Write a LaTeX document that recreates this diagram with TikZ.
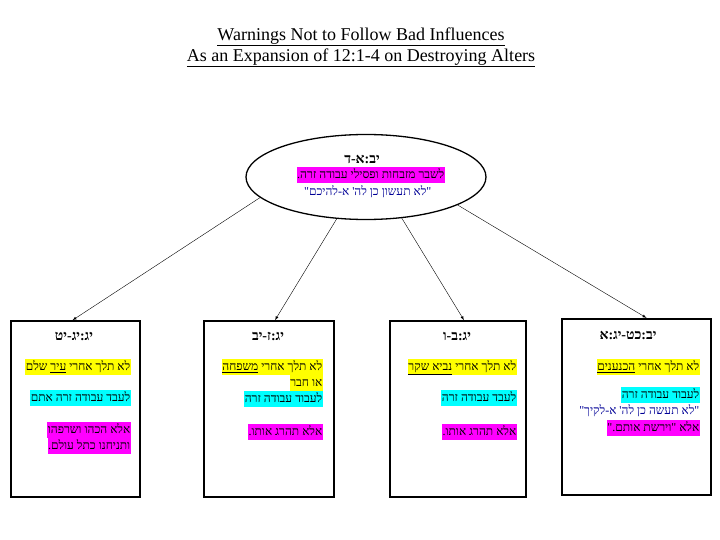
\documentclass[tikz,border=0pt]{standalone}
\usepackage{fontspec}
\setmainfont{Liberation Serif}
\newfontfamily\heb[Script=Hebrew]{Liberation Serif}
\TeXXeTstate=1
\usetikzlibrary{shapes.geometric}
\definecolor{hlyellow}{RGB}{255,255,0}
\definecolor{hlcyan}{RGB}{0,255,255}
\definecolor{hlmagenta}{RGB}{255,0,255}
\definecolor{quoteblue}{RGB}{0,0,150}
\newcommand\rl[1]{\beginR#1\endR}
\newcommand\ulh[1]{\underline{\beginR#1\endR}}
\begin{document}
\begin{tikzpicture}[x=1pt,y=-1pt,
hl/.style={anchor=east,inner xsep=0.5pt,inner ysep=1pt,text height=10pt,text depth=3.5pt,font=\heb\fontsize{12}{14}\selectfont},
head/.style={font=\heb\bfseries\fontsize{14}{16}\selectfont},
boxframe/.style={draw,line width=1.6pt,minimum height=176pt},
title/.style={font=\fontsize{18}{21}\selectfont}]
\useasboundingbox (0,0) rectangle (720,540);
\node[title] (title1) at (361,37) {\underline{Warnings Not to Follow Bad Influences}};
\node[title] (title2) at (361,58) {\underline{As an Expansion of 12:1-4 on Destroying Alters}};
\node[draw,ellipse,line width=1.3pt,minimum width=240pt,minimum height=85pt] (ell) at (366,177) {};
\node[head] (ellh) at (362,159) {\rl{יב:א-ד}};
\node[hl,fill=hlmagenta] (ellm) at (445,175) {\rl{לשבר מזבחות ופסילי עבודה זרה.}};
\node[hl,text=quoteblue] (ellq) at (432,192) {\rl{"לא תעשון כן לה' א-להיכם"}};
\node[boxframe,minimum width=129pt] (b1) at (75.5,409) {};
\node[boxframe,minimum width=130pt] (b2) at (269,409) {};
\node[boxframe,minimum width=136pt] (b3) at (458,409) {};
\node[boxframe,line width=2.2pt,minimum width=149pt] (b4) at (636.5,407) {};
\node[head] (b1h) at (74,336) {\rl{יג:יג-יט}};
\node[hl,fill=hlyellow] (b1y) at (131,367) {\rl{לא תלך אחרי \ulh{עיר} שלם}};
\node[hl,fill=hlcyan] (b1c) at (131,398) {\rl{לעבד עבודה זרה אתם}};
\node[hl,fill=hlmagenta] (b1m1) at (131,430) {\rl{אלא הכהו ושרפהו}};
\node[hl,fill=hlmagenta] (b1m2) at (131,446) {\rl{ותניחנו כתל עולם.}};
\node[head] (b2h) at (268,336) {\rl{יג:ז-יב}};
\node[hl,fill=hlyellow] (b2y1) at (323,367) {\rl{לא תלך אחרי \ulh{משפחה}}};
\node[hl,fill=hlyellow] (b2y2) at (323,383) {\rl{או חבר}};
\node[hl,fill=hlcyan] (b2c) at (323,399) {\rl{לעבוד עבודה זרה}};
\node[hl,fill=hlmagenta] (b2m) at (323,432) {\rl{אלא תהרג אותו.}};
\node[head] (b3h) at (457,336) {\rl{יג:ב-ו}};
\node[hl,fill=hlyellow] (b3y) at (517,367) {\rl{לא תלך אחרי \ulh{נביא שקר}}};
\node[hl,fill=hlcyan] (b3c) at (517,398) {\rl{לעבד עבודה זרה}};
\node[hl,fill=hlmagenta] (b3m) at (517,432) {\rl{אלא תהרג אותו.}};
\node[head] (b4h) at (628,335) {\rl{יב:כט-יג:א}};
\node[hl,fill=hlyellow] (b4y) at (700,367) {\rl{לא תלך אחרי \ulh{הכנענים}}};
\node[hl,fill=hlcyan] (b4c) at (700,395) {\rl{לעבוד עבודה זרה}};
\node[hl,text=quoteblue] (b4q) at (700,411) {\rl{"לא תעשה כן לה' א-לקיך"}};
\node[hl,fill=hlmagenta] (b4m) at (700,428) {\rl{אלא "וירשת אותם."}};
\draw [>=latex,->] (ell.191) -- ([xshift=-3pt]b1.north);
\draw [>=latex,->] (ell.235) -- ([xshift=6pt]b2.north);
\draw [>=latex,->] (ell.311) -- ([xshift=6pt]b3.north);
\draw [>=latex,->] (ell.343) -- ([xshift=10pt]b4.north);
\end{tikzpicture}
\end{document}
